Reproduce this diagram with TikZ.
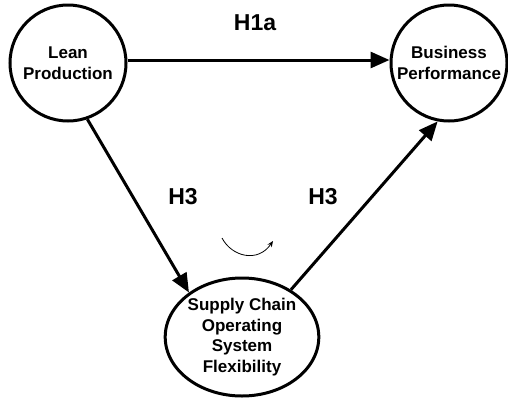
\documentclass[tikz,border=0pt]{standalone}
\usepackage{fontspec}
\setmainfont{Liberation Sans}
\usetikzlibrary{arrows.meta,shapes.geometric}
\begin{document}
\begin{tikzpicture}[x=1pt,y=-1pt,
  construct/.style={draw,line width=3pt,align=center,inner sep=1pt,
    font=\bfseries\fontsize{17}{20.5}\selectfont},
  circ/.style={construct,circle,minimum size=116pt},
  ell/.style={construct,ellipse,inner sep=0pt,minimum width=151pt,minimum height=118pt},
  conn/.style={line width=3pt,-{Triangle[length=19pt,width=16pt]}},
  hyp/.style={font=\bfseries\fontsize{23}{27}\selectfont},
  turn/.style={line width=0.8pt,-{Stealth[length=6pt,width=5pt]}}]
\useasboundingbox (0,0) rectangle (508,399);
\node[circ] (lp) at (68,63) {Lean\\Production};
\node[circ] (bp) at (449,63) {Business\\Performance};
\node[ell] (sc) at (242,337) {Supply Chain\\Operating\\System\\Flexibility};
\draw[conn] ([yshift=3pt]lp.east) -- ([yshift=3pt]bp.west);
\draw[conn] (lp.-71) -- (sc.140);
\draw[conn] (sc.44) -- (bp.-101);
\node[hyp] (h1a) at (255,23) {H1a};
\node[hyp] (h3a) at (183,197) {H3};
\node[hyp] (h3b) at (323,197) {H3};
\coordinate (ta) at (222,238);
\coordinate (tb) at (273,241);
\draw[turn] (ta) .. controls (232,257) and (258,263) .. (tb);
\end{tikzpicture}
\end{document}
